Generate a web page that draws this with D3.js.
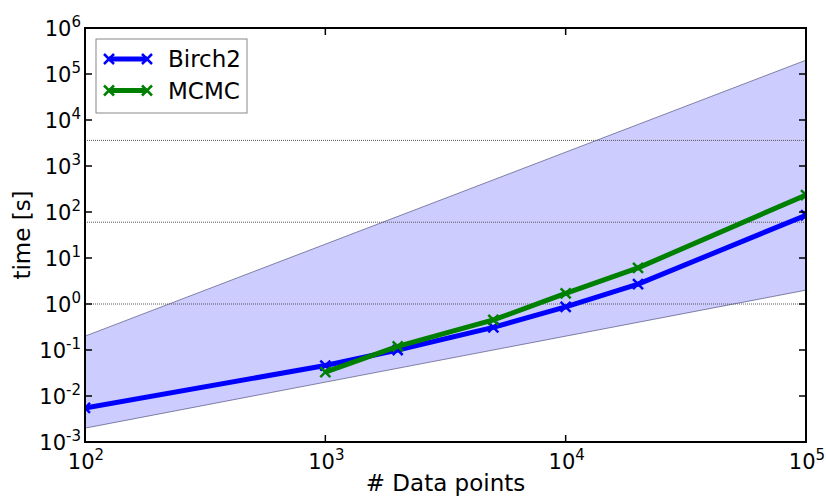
<!DOCTYPE html>
<html><head><meta charset="utf-8">
<script src="https://cdn.jsdelivr.net/npm/d3@7"></script>
<style>body{margin:0;background:#fff;} svg{display:block;font-family:"DejaVu Sans",sans-serif;}</style>
</head><body>
<svg id="c" width="826" height="497"></svg>
<script>
const seriesNames = ["Birch2", "MCMC"];
const nBirch = [100, 1000, 2000, 5000, 10000, 20000, 100000];
const tBirch = [0.0055, 0.046, 0.1, 0.31, 0.87, 2.7, 85];
const nMCMC = [1000, 2000, 5000, 10000, 20000, 100000];
const tMCMC = [0.033, 0.12, 0.45, 1.7, 6.1, 234];
const bandN = [100, 100000];
const bandUpper = [0.2, 200000];
const bandLower = [0.002, 2];
const refLines = [1, 60, 3600];
const xTickExp = [2, 3, 4, 5];
const yTickExp = [-3, -2, -1, 0, 1, 2, 3, 4, 5, 6];
const colors = ["#0000ff", "#008000"];

const L = 85, R = 806, T = 28, B = 442;
const svg = d3.select("#c");
const x = d3.scaleLog().domain([1e2, 1e5]).range([L, R]);
const y = d3.scaleLog().domain([1e-3, 1e6]).range([B, T]);

svg.append("defs").append("clipPath").attr("id", "clip")
  .append("rect").attr("x", L).attr("y", T).attr("width", R - L).attr("height", B - T);
const g = svg.append("g").attr("clip-path", "url(#clip)");

// band
const bandPts = bandN.map((n, i) => [x(n), y(bandUpper[i])])
  .concat(bandN.map((n, i) => [x(n), y(bandLower[i])]).reverse());
g.append("path").attr("d", d3.line()(bandPts) + "Z")
  .attr("fill", "#ccccff").attr("stroke", "#3a3a6a").attr("stroke-width", 0.6);

// reference lines
refLines.forEach(v => {
  g.append("line").attr("x1", L).attr("x2", R).attr("y1", y(v)).attr("y2", y(v))
    .attr("stroke", "#555").attr("stroke-width", 1).attr("stroke-dasharray", "1,1");
});

function xMark(sel, cx, cy, col) {
  const s = 5;
  sel.append("path").attr("d", `M${cx - s},${cy - s}L${cx + s},${cy + s}M${cx - s},${cy + s}L${cx + s},${cy - s}`)
    .attr("stroke", col).attr("stroke-width", 2.5);
}
const line = d3.line().x(d => x(d[0])).y(d => y(d[1]));
function drawSeries(ns, ts, col) {
  const pts = ns.map((n, i) => [n, ts[i]]);
  g.append("path").attr("d", line(pts)).attr("fill", "none")
    .attr("stroke", col).attr("stroke-width", 5).attr("stroke-linejoin", "round");
  pts.forEach(p => xMark(g, x(p[0]), y(p[1]), col));
}
drawSeries(nBirch, tBirch, colors[0]);
drawSeries(nMCMC, tMCMC, colors[1]);

// ticks
const tl = 7;
xTickExp.forEach(e => {
  const px = x(Math.pow(10, e));
  svg.append("line").attr("x1", px).attr("x2", px).attr("y1", B).attr("y2", B - tl).attr("stroke", "#000").attr("stroke-width", 1.5);
  svg.append("line").attr("x1", px).attr("x2", px).attr("y1", T).attr("y2", T + tl).attr("stroke", "#000").attr("stroke-width", 1.5);
  const t = svg.append("text").attr("x", px + 1).attr("y", 469).attr("text-anchor", "middle").attr("font-size", 21).attr("fill", "#000");
  t.append("tspan").text("10");
  t.append("tspan").attr("dy", -9).attr("font-size", 15).text(String(e));
});
yTickExp.forEach(e => {
  const py = y(Math.pow(10, e));
  svg.append("line").attr("x1", L).attr("x2", L + tl).attr("y1", py).attr("y2", py).attr("stroke", "#000").attr("stroke-width", 1.5);
  svg.append("line").attr("x1", R).attr("x2", R - tl).attr("y1", py).attr("y2", py).attr("stroke", "#000").attr("stroke-width", 1.5);
  const t = svg.append("text").attr("x", 81).attr("y", py + 7.5).attr("text-anchor", "end").attr("font-size", 21).attr("fill", "#000");
  t.append("tspan").text("10");
  t.append("tspan").attr("dy", -9).attr("font-size", 15).text(e < 0 ? "-" + (-e) : String(e));
});

// frame
svg.append("rect").attr("x", L).attr("y", T).attr("width", R - L).attr("height", B - T)
  .attr("fill", "none").attr("stroke", "#000").attr("stroke-width", 2);

// axis titles
svg.append("text").attr("x", (L + R) / 2).attr("y", 491).attr("text-anchor", "middle")
  .attr("font-size", 23).text("# Data points");
svg.append("text").attr("transform", `translate(30,${(T + B) / 2}) rotate(-90)`).attr("text-anchor", "middle")
  .attr("font-size", 23).text("time [s]");

// legend
const lg = svg.append("g");
lg.append("rect").attr("x", 96).attr("y", 39).attr("width", 151).attr("height", 74)
  .attr("fill", "#fff").attr("stroke", "#888").attr("stroke-width", 1);
seriesNames.forEach((name, i) => {
  const ly = 59 + i * 31.5;
  lg.append("line").attr("x1", 109).attr("x2", 147).attr("y1", ly).attr("y2", ly).attr("stroke", colors[i]).attr("stroke-width", 5);
  [109, 147].forEach(cx => xMark(lg, cx, ly, colors[i]));
  lg.append("text").attr("x", 168).attr("y", ly + 8).attr("font-size", 23).text(name);
});
</script>
</body></html>
